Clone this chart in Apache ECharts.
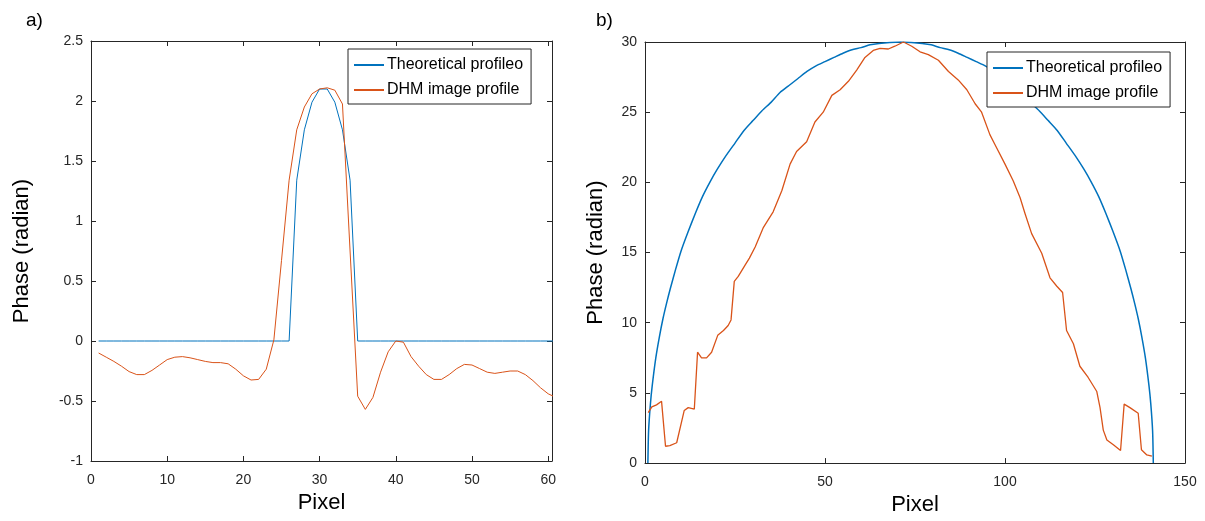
<!DOCTYPE html>
<html>
<head>
<meta charset="utf-8">
<script src="https://cdn.jsdelivr.net/npm/echarts@6/dist/echarts.min.js"></script>
<style>
html,body{margin:0;padding:0;background:#fff;}
#chart{width:1205px;height:521px;}
</style>
</head>
<body>
<div id="chart"></div>
<script>
// ---------- Panel a data ----------
const pixelA = [1,2,3,4,5,6,7,8,9,10,11,12,13,14,15,16,17,18,19,20,21,22,23,24,25,26,27,28,29,30,
  31,32,33,34,35,36,37,38,39,40,41,42,43,44,45,46,47,48,49,50,51,52,53,54,55,56,57,58,59,60,61];
const theoA = [0,0,0,0,0,0,0,0,0,0,0,0,0,0,0,0,0,0,0,0,0,0,0,0,0,0,
  1.34,1.76,1.99,2.10,2.10,1.99,1.76,1.34,
  0,0,0,0,0,0,0,0,0,0,0,0,0,0,0,0,0,0,0,0,0,0,0,0,0,0,0];
const dhmA = [-0.10,-0.135,-0.17,-0.21,-0.255,-0.28,-0.28,-0.245,-0.20,-0.155,
  -0.135,-0.13,-0.14,-0.155,-0.17,-0.18,-0.18,-0.19,-0.235,-0.29,
  -0.325,-0.32,-0.235,0.01,0.67,1.34,1.76,1.95,2.06,2.10,
  2.11,2.09,1.975,0.75,-0.46,-0.57,-0.47,-0.26,-0.09,0.0,
  -0.01,-0.13,-0.21,-0.28,-0.32,-0.32,-0.28,-0.23,-0.195,-0.20,
  -0.23,-0.26,-0.27,-0.26,-0.25,-0.25,-0.28,-0.33,-0.39,-0.44,-0.47];

// ---------- Panel b data ----------
const theoBx = [0.8,1,1.5,2,3,4,5,6,7,8.5,10,12,14,16,18,20,22.5,25,27.5,30,32.5,35,37.5,40,42.5,45,47.5,50,52.5,55,57.5,60,62.5,65,68,71,
  74,77,79.5,82,84.5,87,89.5,92,94.5,97,99.5,102,104.5,107,109.5,112,114.5,117,119.5,122,124,126,128,130,132,133.5,135,136,137,138,139,140,140.5,141,141.2];
const theoBy = [0,2.3,4.2,5.5,7.5,9.0,10.3,11.4,12.4,13.8,15.1,16.5,17.8,19.0,20.0,20.9,21.9,22.8,23.7,24.4,25.1,25.7,26.4,26.9,27.4,27.9,28.3,28.6,28.9,29.2,29.45,29.6,29.8,29.9,29.97,30,
  29.97,29.9,29.8,29.6,29.45,29.2,28.9,28.6,28.3,27.9,27.4,26.9,26.4,25.7,25.1,24.4,23.7,22.8,21.9,20.9,20.0,19.0,17.8,16.5,15.1,13.8,12.4,11.4,10.3,9.0,7.5,5.5,4.2,2.3,0];
const dhmBx = [0.9,1.9,3.2,4.6,5.7,6.9,8.8,10.9,12.0,13.7,14.6,15.7,17.1,18.5,20.2,21.8,23.1,23.9,24.8,25.9,
  27.8,29.0,30.6,32.9,35.6,38.0,40.3,42.1,44.9,47.2,49.5,51.9,54.2,56.5,58.8,61.1,63.4,65.3,67.6,69.4,
  71.8,74.1,76.4,78.7,81.5,84.3,87.0,89.4,91.7,93.5,95.8,97.2,100.0,102.3,104.2,105.6,107.4,110.2,112.5,114.4,
  116.0,117.1,119.0,120.8,123.1,125.5,126.4,127.3,128.3,130.1,132.1,133.1,134.7,137.0,137.9,139.4,140.8];
const dhmBy = [3.6,4.0,4.15,4.4,1.2,1.25,1.45,3.75,3.95,3.85,7.9,7.5,7.5,7.9,9.1,9.45,9.8,10.2,12.95,13.3,
  14.1,14.6,15.4,16.8,17.9,19.4,21.3,22.2,22.9,24.3,25.0,26.2,26.6,27.2,28.0,28.9,29.4,29.55,29.5,29.7,
  30.0,29.7,29.3,29.1,28.7,27.9,27.3,26.6,25.6,25.0,23.4,22.7,21.3,20.1,18.9,17.75,16.35,14.95,13.2,12.6,
  12.15,9.45,8.5,6.9,6.1,5.1,3.95,2.35,1.65,1.3,0.9,4.2,3.95,3.55,0.95,0.58,0.5];

const seriesNames = ['Theoretical profileo', 'DHM image profile'];
const colors = ['#0072BD', '#D95319'];
const xTicksA = {min: 0, max: 60.5, interval: 10};
const yTicksA = {min: -1, max: 2.5, interval: 0.5};
const xTicksB = {min: 0, max: 150, interval: 50};
const yTicksB = {min: 0, max: 30, interval: 5};

function zip(xs, ys) { return xs.map((x, i) => [x, ys[i]]); }

const FONT = '"Liberation Sans", Arial, Helvetica, sans-serif';
const AX = '#262626';

function mainAxis(r, gridIndex, name, nameGap, isX) {
  return {
    type: 'value', gridIndex, min: r.min, max: r.max, interval: r.interval,
    position: isX ? 'bottom' : 'left',
    name, nameLocation: 'middle', nameGap,
    nameTextStyle: {fontFamily: FONT, fontSize: 22, color: '#000'},
    axisLine: {show: true, onZero: false, lineStyle: {color: AX, width: 1}},
    axisTick: {show: true, inside: true, length: 5, lineStyle: {color: AX}},
    axisLabel: {fontFamily: FONT, fontSize: 14, color: AX, margin: isX ? 12 : 8,
      formatter: v => (Math.abs(Math.round((v - r.min) / r.interval) * r.interval + r.min - v) < 1e-9) ? String(+v.toFixed(2)) : ''},
    splitLine: {show: false}
  };
}
function mirrorAxis(r, gridIndex, isX) {
  return {
    type: 'value', gridIndex, min: r.min, max: r.max, interval: r.interval,
    position: isX ? 'top' : 'right',
    axisLine: {show: true, onZero: false, lineStyle: {color: AX, width: 1}},
    axisTick: {show: true, inside: true, length: 5, lineStyle: {color: AX}},
    axisLabel: {show: false},
    splitLine: {show: false}
  };
}

const legendCommon = {
  orient: 'vertical', icon: 'rect', itemWidth: 30, itemHeight: 2, itemGap: 5,
  padding: [6, 8, 4, 6], borderColor: AX, borderWidth: 1, backgroundColor: '#fff',
  selectedMode: false, data: seriesNames,
  textStyle: {fontFamily: FONT, fontSize: 16, lineHeight: 20, color: '#000', padding: [0,0,0,-2]}
};

const option = {
  animation: false,
  backgroundColor: '#fff',
  color: colors,
  grid: [
    {left: 91, top: 41, width: 461, height: 420},
    {left: 645, top: 42, width: 540, height: 428}
  ],
  xAxis: [
    mainAxis(xTicksA, 0, 'Pixel', 28, true),
    mainAxis(xTicksB, 1, 'Pixel', 26, true),
    mirrorAxis(xTicksA, 0, true),
    mirrorAxis(xTicksB, 1, true)
  ],
  yAxis: [
    mainAxis(yTicksA, 0, 'Phase (radian)', 58, false),
    mainAxis(yTicksB, 1, 'Phase (radian)', 38, false),
    mirrorAxis(yTicksA, 0, false),
    mirrorAxis(yTicksB, 1, false)
  ],
  legend: [
    Object.assign({}, legendCommon, {left: 348, top: 49}),
    Object.assign({}, legendCommon, {left: 987, top: 52})
  ],
  graphic: [
    {type: 'text', left: 26, top: 11, style: {text: 'a)', fontFamily: FONT, fontSize: 19, fill: '#000'}},
    {type: 'text', left: 596, top: 11, style: {text: 'b)', fontFamily: FONT, fontSize: 19, fill: '#000'}}
  ],
  series: [
    {name: seriesNames[0], type: 'line', xAxisIndex: 0, yAxisIndex: 0, data: zip(pixelA, theoA),
      showSymbol: false, lineStyle: {width: 1, color: colors[0]}, itemStyle: {color: colors[0]}},
    {name: seriesNames[1], type: 'line', xAxisIndex: 0, yAxisIndex: 0, data: zip(pixelA, dhmA),
      showSymbol: false, lineStyle: {width: 1, color: colors[1]}, itemStyle: {color: colors[1]}},
    {name: seriesNames[0], type: 'line', xAxisIndex: 1, yAxisIndex: 1, data: zip(theoBx, theoBy),
      showSymbol: false, smooth: 0.2, lineStyle: {width: 1.5, color: colors[0]}, itemStyle: {color: colors[0]}},
    {name: seriesNames[1], type: 'line', xAxisIndex: 1, yAxisIndex: 1, data: zip(dhmBx, dhmBy),
      showSymbol: false, lineStyle: {width: 1.3, color: colors[1]}, itemStyle: {color: colors[1]}}
  ]
};

const chart = echarts.init(document.getElementById('chart'), null, {renderer: 'canvas'});
chart.setOption(option);
</script>
</body>
</html>
